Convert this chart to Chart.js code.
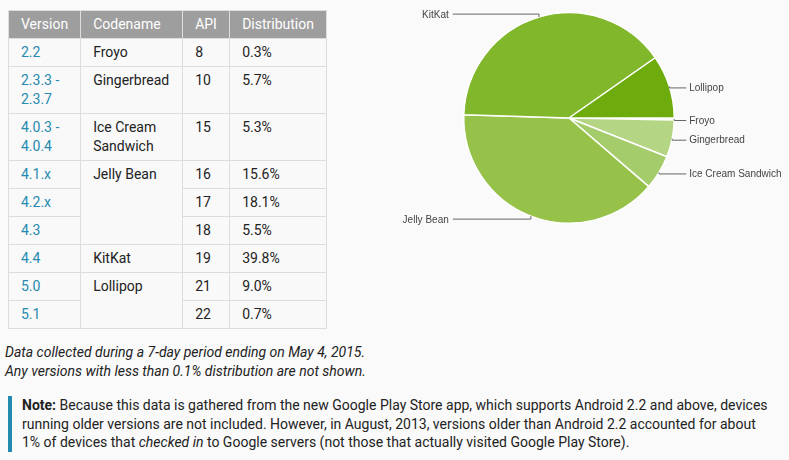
<!DOCTYPE html>
<html>
<head>
<meta charset="utf-8">
<script src="https://cdn.jsdelivr.net/npm/chart.js@4/dist/chart.umd.min.js"></script>
<style>
  body { margin: 0; background: #fafafa; font-family: Roboto, sans-serif; width: 789px; height: 460px; overflow: hidden; position: relative; }
  table { position: absolute; left: 8px; top: 10px; border-collapse: collapse; table-layout: fixed; font-size: 14px; line-height: 19px; color: #222; }
  th, td { border: 1px solid #ddd; padding: 4px 12px; text-align: left; vertical-align: top; }
  th { background: #9e9e9e; color: #fff; font-weight: normal; border-color: #ddd; }
  td { background: #f9f9f9; }
  td.ver { color: #258aaf; }
  #chartBox { position: absolute; left: 360px; top: 0; }
  .foot { position: absolute; left: 5px; top: 343px; font-style: italic; font-size: 14px; line-height: 19px; color: #222; }
  .note { position: absolute; left: 8px; top: 396px; width: 752px; border-left: 4px solid #258aaf; padding-left: 10px; font-size: 14px; line-height: 18.5px; color: #222; }
</style>
</head>
<body>
<table id="dist">
  <colgroup><col style="width:72px"><col style="width:102px"><col style="width:47px"><col style="width:97px"></colgroup>
  <thead><tr><th>Version</th><th>Codename</th><th>API</th><th>Distribution</th></tr></thead>
  <tbody></tbody>
</table>
<div id="chartBox"><canvas id="pie" width="429" height="240"></canvas></div>
<div class="foot">Data collected during a 7-day period ending on May 4, 2015.<br>Any versions with less than 0.1% distribution are not shown.</div>
<div class="note"><b>Note:</b> Because this data is gathered from the new Google Play Store app, which supports Android 2.2 and above, devices running older versions are not included. However, in August, 2013, versions older than Android 2.2 accounted for about 1% of devices that <i>checked in</i> to Google servers (not those that actually visited Google Play Store).</div>
<script>
const versions = ["2.2", "2.3.3 - 2.3.7", "4.0.3 - 4.0.4", "4.1.x", "4.2.x", "4.3", "4.4", "5.0", "5.1"];
const codenames = ["Froyo", "Gingerbread", "Ice Cream Sandwich", "Jelly Bean", "Jelly Bean", "Jelly Bean", "KitKat", "Lollipop", "Lollipop"];
const apiLevels = [8, 10, 15, 16, 17, 18, 19, 21, 22];
const distribution = [0.3, 5.7, 5.3, 15.6, 18.1, 5.5, 39.8, 9.0, 0.7];

const sliceColors = ["#c2de98", "#b4d583", "#a5cc6b", "#97c24a", "#80b72b", "#6eab0c"];

// table rows, codename cell spans its repeated rows
const tbody = document.querySelector("#dist tbody");
versions.forEach((v, i) => {
  const tr = document.createElement("tr");
  let html = '<td class="ver">' + v + '</td>';
  if (i === 0 || codenames[i] !== codenames[i - 1]) {
    let span = 1;
    while (codenames[i + span] === codenames[i]) span++;
    html += '<td rowspan="' + span + '">' + codenames[i] + '</td>';
  }
  html += '<td>' + apiLevels[i] + '</td><td>' + distribution[i].toFixed(1) + '%</td>';
  tr.innerHTML = html;
  tbody.appendChild(tr);
});

// pie slices: sum per codename
const pieLabels = [];
const pieValues = [];
codenames.forEach((c, i) => {
  const k = pieLabels.indexOf(c);
  if (k < 0) { pieLabels.push(c); pieValues.push(distribution[i]); }
  else pieValues[k] = Math.round((pieValues[k] + distribution[i]) * 10) / 10;
});

const leaderLabels = {
  id: "leaderLabels",
  afterDatasetsDraw(chart) {
    const ctx = chart.ctx;
    const arcs = chart.getDatasetMeta(0).data;
    ctx.save();
    ctx.font = "10px 'Liberation Sans', Arial, sans-serif";
    ctx.fillStyle = "#444";
    ctx.strokeStyle = "#666";
    ctx.lineWidth = 1;
    ctx.textBaseline = "middle";
    arcs.forEach((arc, i) => {
      const { x, y, startAngle, endAngle, outerRadius } = arc.getProps(["x", "y", "startAngle", "endAngle", "outerRadius"], true);
      const mid = (startAngle + endAngle) / 2;
      const ex = x + Math.cos(mid) * outerRadius;
      const ey = y + Math.sin(mid) * outerRadius;
      ctx.beginPath();
      if (Math.cos(mid) > 0) {
        const lx = x + outerRadius + 12;
        const ly = ey + 1.5;
        ctx.moveTo(ex, ey);
        ctx.lineTo(ex, ly);
        ctx.lineTo(lx, ly);
        ctx.stroke();
        ctx.textAlign = "left";
        ctx.fillText(pieLabels[i], lx + 3, ly + 0.5);
      } else {
        const ly = ey + (Math.sin(mid) < 0 ? -3 : 3);
        const lx = x - outerRadius - 11;
        ctx.moveTo(ex, ey);
        ctx.lineTo(ex, ly);
        ctx.lineTo(lx, ly);
        ctx.stroke();
        ctx.textAlign = "right";
        ctx.fillText(pieLabels[i], lx - 4, ly + 1);
      }
    });
    ctx.restore();
  }
};

new Chart(document.getElementById("pie"), {
  type: "pie",
  data: {
    labels: pieLabels,
    datasets: [{
      data: pieValues,
      backgroundColor: sliceColors,
      borderColor: "#ffffff",
      borderWidth: 1.5
    }]
  },
  options: {
    responsive: false,
    animation: false,
    rotation: 90,
    layout: { padding: { top: 12, bottom: 16, left: 103, right: 114 } },
    plugins: { legend: { display: false }, tooltip: { enabled: false } }
  },
  plugins: [leaderLabels]
});
</script>
</body>
</html>
